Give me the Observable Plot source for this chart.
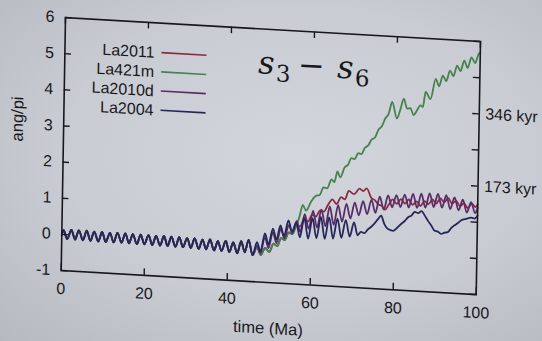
<!DOCTYPE html>
<html><head><meta charset="utf-8">
<script src="https://cdn.jsdelivr.net/npm/d3@7"></script>
<script src="https://cdn.jsdelivr.net/npm/@observablehq/plot@0.6"></script>
<style>
html,body{margin:0;padding:0;width:542px;height:341px;overflow:hidden;}
body{background:radial-gradient(ellipse at 55% 45%, #d2d5db 0%, #c9ccd3 55%, #b6b9c0 100%);}
#wrap{position:absolute;left:0;top:0;width:542px;height:341px;transform-origin:65px 17px;transform:matrix(1,0.058,-0.017,1,0,0);}
svg{display:block;}
</style></head>
<body><div id="wrap"></div>
<script>
// ---- data (time in Ma, angle in units of pi) ----
const seriesNames = ["La2011", "La421m", "La2010d", "La2004"];
const seriesColors = ["#8a2b3e", "#45824c", "#5a2c6a", "#23275a"];

// common part shared by all four solutions (0 - 46 Ma)
const commonT = [0, 0.4, 1.3, 2.3, 3.2, 4.1, 5.1, 6.0, 6.9, 7.8, 8.8, 9.7, 10.6, 11.6, 12.5, 13.4, 14.4, 15.3, 16.2, 17.1, 18.1, 19.0, 19.9, 20.9, 21.8, 22.7, 23.7, 24.6, 25.5, 26.4, 27.4, 28.3, 29.2, 30.2, 31.1, 32.0, 33.0, 33.9, 34.8, 35.7, 36.7, 37.6, 38.5, 39.5, 40.4, 41.3, 42.3, 43.2, 44.1, 45.0, 46.0];
const commonV = [-0.02, 0.12, -0.12, 0.14, -0.12, 0.14, -0.13, 0.14, -0.13, 0.13, -0.14, 0.13, -0.14, 0.12, -0.14, 0.13, -0.13, 0.13, -0.14, 0.12, -0.15, 0.12, -0.14, 0.12, -0.15, 0.11, -0.15, 0.12, -0.15, 0.11, -0.16, 0.11, -0.16, 0.10, -0.17, 0.10, -0.18, 0.08, -0.18, 0.10, -0.20, 0.06, -0.20, 0.08, -0.22, 0.05, -0.24, 0.10, -0.20, 0.15, -0.27];

const la2011T = [47.0, 48.0, 49.0, 50.0, 51.0, 51.9, 52.8, 53.7, 54.6, 55.5, 56.4, 57.3, 58.3, 59.2, 60.2, 61.1, 62.1, 63.0, 64.0, 65.0, 66.0, 67.1, 68.0, 68.9, 70.2, 71.5, 72.4, 73.2, 74.4, 75.2, 76.0, 76.9, 77.7, 78.6, 79.5, 80.5, 81.5, 82.5, 83.4, 84.3, 85.3, 86.2, 87.2, 88.1, 89.1, 90.0, 91.0, 91.9, 92.9, 93.8, 94.8, 95.7, 96.7, 97.6, 98.6, 99.5, 100];
const la2011V = [-0.05, -0.25, -0.05, -0.15, 0.08, 0.02, 0.25, 0.2, 0.42, 0.38, 0.62, 0.6, 0.8, 0.75, 0.95, 0.9, 1.08, 1.05, 1.25, 1.4, 1.28, 1.48, 1.42, 1.66, 1.58, 1.74, 1.68, 1.76, 1.5, 1.45, 1.34, 1.3, 1.2, 1.35, 1.5, 1.38, 1.52, 1.4, 1.52, 1.38, 1.48, 1.36, 1.5, 1.42, 1.56, 1.45, 1.6, 1.5, 1.62, 1.48, 1.56, 1.42, 1.5, 1.38, 1.5, 1.42, 1.5];

const la421mT = [47.0, 48.0, 49.0, 50.0, 51.0, 51.9, 52.8, 53.7, 54.6, 55.5, 56.4, 57.1, 57.9, 58.7, 59.9, 61.1, 61.9, 62.8, 63.7, 64.7, 65.4, 66.1, 66.8, 67.8, 68.6, 69.4, 70.2, 71.0, 71.8, 72.6, 73.4, 74.2, 75.0, 75.8, 76.6, 77.4, 78.2, 79.0, 80.2, 81.0, 81.8, 82.6, 83.4, 84.2, 85.0, 85.8, 86.4, 87.0, 88.2, 89.4, 90.2, 91.1, 91.9, 92.8, 93.6, 94.5, 95.3, 96.2, 97.0, 97.9, 98.8, 99.6, 100];
const la421mV = [-0.05, -0.25, -0.05, -0.15, 0.08, 0.02, 0.25, 0.2, 0.42, 0.38, 0.62, 0.85, 1.2, 1.05, 1.31, 1.48, 1.5, 1.72, 1.7, 1.95, 1.88, 2.18, 2.02, 2.3, 2.38, 2.57, 2.55, 2.72, 2.7, 2.88, 2.95, 3.12, 3.18, 3.4, 3.5, 3.72, 3.86, 4.19, 3.74, 4.0, 4.3, 4.03, 4.05, 3.86, 4.0, 4.14, 4.1, 4.52, 4.33, 4.9, 4.7, 5.0, 4.85, 5.15, 5.0, 5.3, 5.15, 5.45, 5.25, 5.55, 5.4, 5.65, 5.7];

const la2010dT = [47.0, 47.9, 48.9, 49.8, 50.8, 51.7, 52.7, 53.6, 54.6, 55.5, 56.5, 57.4, 58.4, 59.4, 60.4, 61.4, 62.4, 63.4, 64.4, 65.4, 66.4, 67.4, 68.4, 69.4, 70.4, 71.4, 72.4, 73.4, 74.4, 75.4, 76.4, 77.4, 78.4, 79.4, 80.4, 81.4, 82.4, 83.4, 84.4, 85.4, 86.4, 87.4, 88.4, 89.4, 90.4, 91.4, 92.4, 93.4, 94.4, 95.4, 96.4, 97.4, 98.4, 99.4, 100];
const la2010dV = [0.0, -0.2, 0.25, -0.05, 0.4, 0.1, 0.5, 0.25, 0.62, 0.4, 0.75, 0.45, 0.95, 0.55, 1.05, 0.6, 1.1, 0.65, 1.2, 0.7, 1.25, 0.8, 1.3, 0.9, 1.35, 1.0, 1.4, 1.05, 1.45, 1.1, 1.55, 1.2, 1.6, 1.28, 1.62, 1.3, 1.65, 1.3, 1.68, 1.3, 1.7, 1.32, 1.72, 1.35, 1.72, 1.35, 1.7, 1.32, 1.65, 1.3, 1.6, 1.25, 1.55, 1.25, 1.4];

const la2004T = [47.0, 47.9, 48.9, 49.8, 50.8, 51.7, 52.6, 53.5, 54.5, 55.4, 56.4, 57.3, 58.3, 59.3, 60.3, 61.3, 62.3, 63.3, 64.3, 65.3, 66.3, 67.3, 68.3, 69.3, 70.3, 71.2, 72.0, 72.8, 73.6, 74.4, 75.2, 76.0, 76.8, 77.6, 78.5, 79.7, 80.7, 81.7, 82.5, 83.3, 84.1, 84.9, 85.7, 86.5, 87.3, 88.1, 88.9, 89.7, 90.5, 91.3, 92.1, 92.9, 93.7, 94.5, 95.3, 96.1, 97.3, 98.5, 99.3, 100];
const la2004V = [0.1, -0.15, 0.35, 0.05, 0.5, 0.2, 0.6, 0.3, 0.75, 0.45, 0.7, 0.3, 0.85, 0.28, 0.85, 0.3, 0.9, 0.3, 0.9, 0.32, 0.88, 0.35, 0.85, 0.4, 0.8, 0.45, 0.55, 0.52, 0.62, 0.7, 0.8, 0.92, 1.03, 0.8, 0.67, 0.63, 0.72, 0.84, 0.92, 1.03, 1.08, 1.19, 1.16, 1.22, 1.1, 0.96, 0.84, 0.7, 0.68, 0.62, 0.66, 0.68, 0.8, 0.88, 0.95, 1.03, 1.08, 1.12, 1.1, 1.18];

const xTicks = [0, 20, 40, 60, 80, 100];
const yTicks = [-1, 0, 1, 2, 3, 4, 5, 6];
const rightTickValues = [4, 2];
const rightTickLabels = ["346 kyr", "173 kyr"];
const xLabel = "time (Ma)";
const yLabel = "ang/pi";

// ---- build table ----
const own = {La2011: [la2011T, la2011V], La421m: [la421mT, la421mV], La2010d: [la2010dT, la2010dV], La2004: [la2004T, la2004V]};
const data = [];
for (const name of seriesNames) {
  const n0 = Math.min(commonT.length, commonV.length);
  for (let i = 0; i < n0; i++) data.push({series: name, t: commonT[i], v: commonV[i]});
  const [T, V] = own[name];
  const n = Math.min(T.length, V.length);
  for (let i = 0; i < n; i++) data.push({series: name, t: T[i], v: V[i]});
}

const W = 542, H = 341, mL = 65, mR = 62, mT = 17, mB = 71;
const fw = W - mL - mR, fh = H - mT - mB;
const ink = "#18181c";

const chart = Plot.plot({
  width: W, height: H,
  marginLeft: mL, marginRight: mR, marginTop: mT, marginBottom: mB,
  style: {background: "transparent", fontFamily: "'Liberation Sans', Arial, sans-serif", fontSize: "16px", color: ink},
  x: {domain: [0, 100]},
  y: {domain: [-1, 6]},
  color: {domain: seriesNames, range: seriesColors},
  marks: [
    Plot.line(data, {x: "t", y: "v", z: "series", stroke: "series", curve: "monotone-x", strokeWidth: 1.8}),
    Plot.frame({stroke: ink, strokeWidth: 1.6}),
    Plot.tickY(yTicks, {y: d => d, insetRight: fw - 6.5, stroke: ink, strokeWidth: 1.4}),
    Plot.tickY(yTicks, {y: d => d, insetLeft: fw - 6.5, stroke: ink, strokeWidth: 1.4}),
    Plot.tickX(xTicks, {x: d => d, insetTop: fh - 6.5, stroke: ink, strokeWidth: 1.4}),
    Plot.tickX(xTicks, {x: d => d, insetBottom: fh - 6.5, stroke: ink, strokeWidth: 1.4}),
    Plot.axisX({ticks: xTicks, tickSize: 0, tickPadding: 12, tickFormat: d => String(d), label: null, fontSize: 16, fill: ink}),
    Plot.axisY({ticks: yTicks, tickSize: 0, tickPadding: 11, tickFormat: d => String(d), label: null, fontSize: 16, fill: ink}),
    Plot.axisY({anchor: "right", ticks: rightTickValues, tickSize: 0, tickPadding: 6, tickFormat: d => rightTickLabels[rightTickValues.indexOf(d)], label: null, fontSize: 16, fill: ink}),
    Plot.text([xLabel], {frameAnchor: "bottom", dy: 46, lineAnchor: "middle", fontSize: 16.5, fill: ink}),
    Plot.text([yLabel], {frameAnchor: "left", dx: -46, rotate: -90, lineAnchor: "middle", fontSize: 16.5, fill: ink})
  ]
});

document.getElementById("wrap").appendChild(chart);

// legend (top-left, inside the frame)
const svg = d3.select(chart);
const lg = svg.append("g").attr("font-family", "'Liberation Sans', Arial, sans-serif").attr("font-size", 16).attr("fill", ink);
seriesNames.forEach((name, i) => {
  const yy = mT + 30 + i * 19.2;
  lg.append("text").attr("x", mL + 90).attr("y", yy).attr("dy", "0.35em").attr("text-anchor", "end").text(name);
  lg.append("line").attr("x1", mL + 97).attr("x2", mL + 142).attr("y1", yy).attr("y2", yy)
    .attr("stroke", seriesColors[i]).attr("stroke-width", 1.6);
});

// title  s_3 - s_6
const tg = svg.append("g").attr("font-family", "'DejaVu Serif', serif").attr("fill", ink);
const base = mT + 45;
tg.append("text").attr("x", 267).attr("y", base).attr("font-size", 32).attr("font-style", "italic").text("s");
tg.append("text").attr("x", 284).attr("y", base + 7).attr("font-size", 23).text("3");
tg.append("text").attr("x", 312).attr("y", base).attr("font-size", 32).text("\u2212");
tg.append("text").attr("x", 346).attr("y", base).attr("font-size", 32).attr("font-style", "italic").text("s");
tg.append("text").attr("x", 363).attr("y", base + 7).attr("font-size", 23).text("6");
</script>
</body></html>
